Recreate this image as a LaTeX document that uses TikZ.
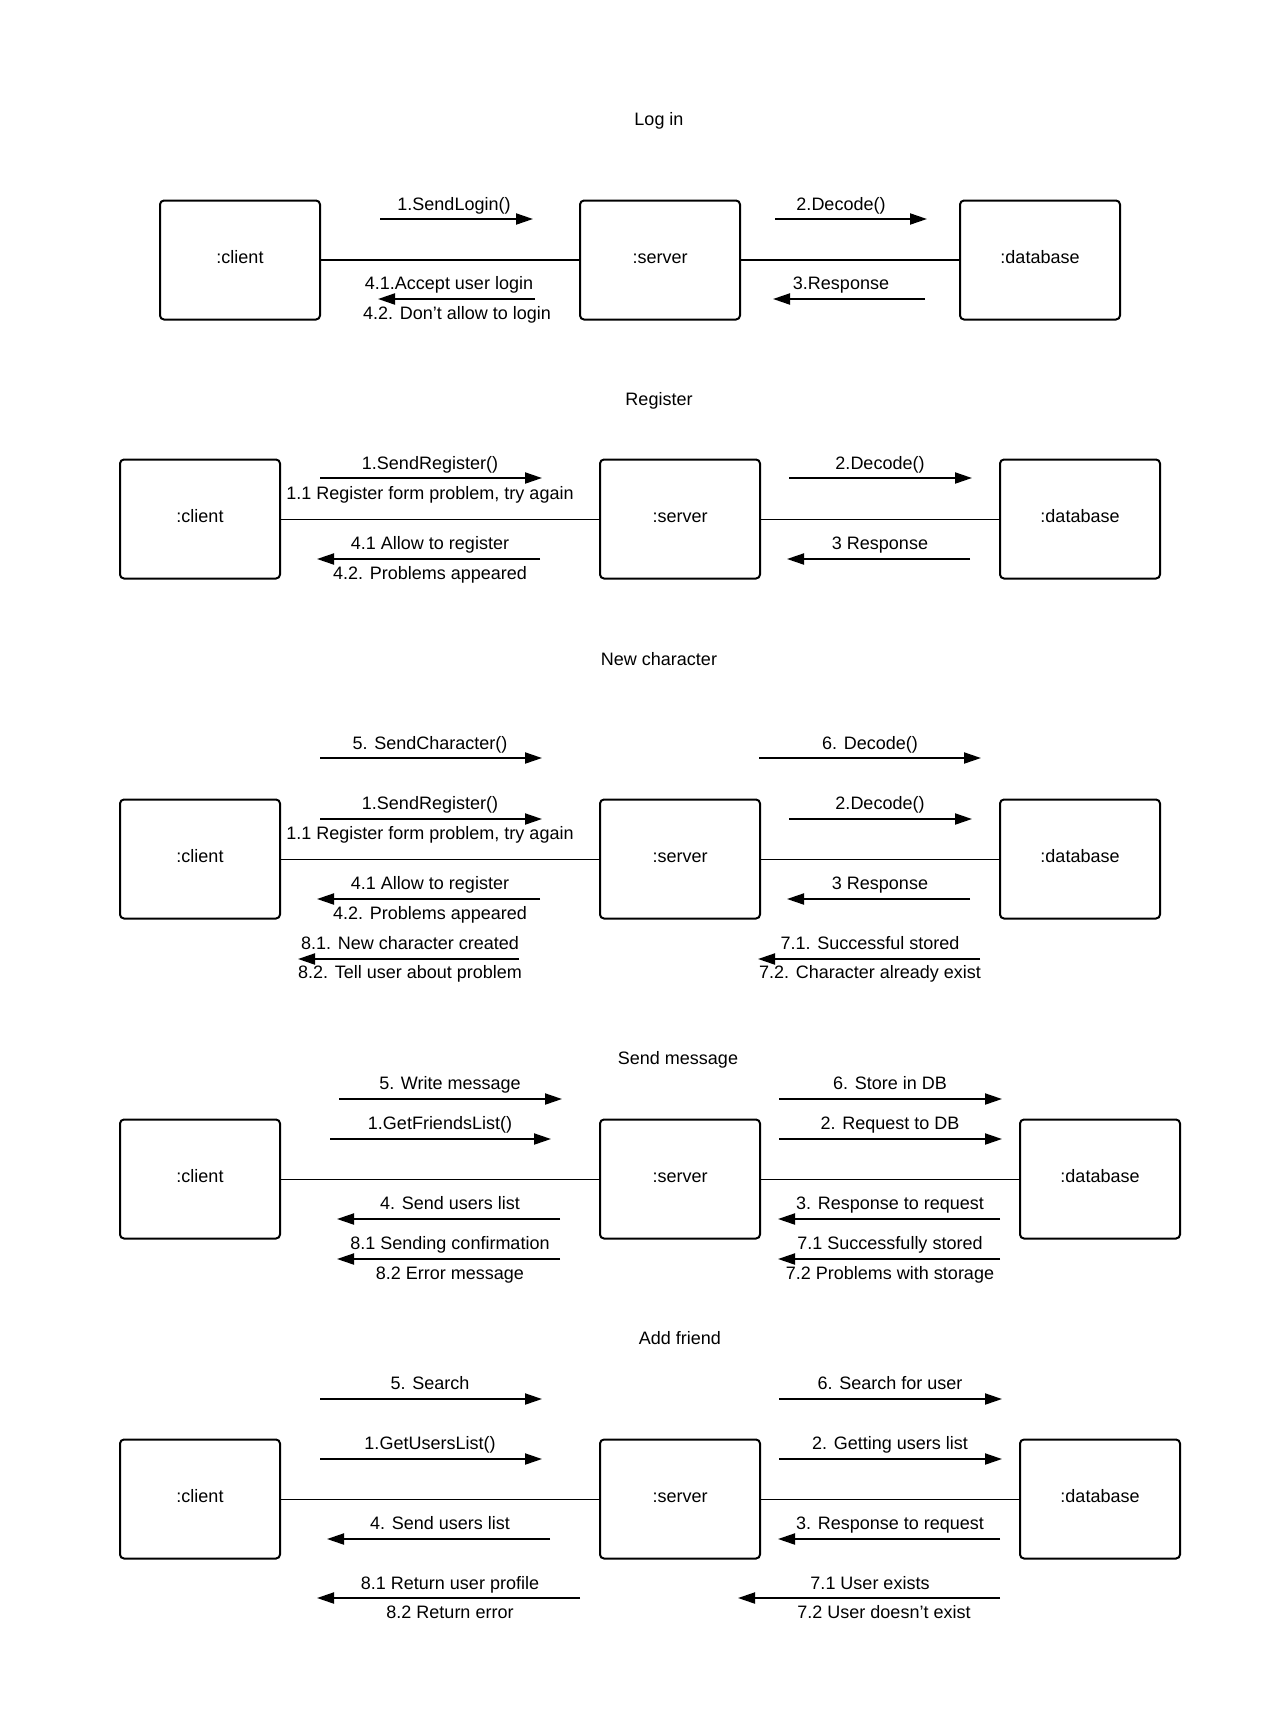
\documentclass[tikz,border=0pt]{standalone}
\usepackage{fontspec}
\setmainfont{Liberation Sans}
\usetikzlibrary{arrows.meta}
\begin{document}
\begin{tikzpicture}[x=1pt,y=-1pt,
 obj/.style={draw, line width=2pt, rounded corners=4pt, minimum width=160pt, minimum height=119pt, inner sep=0pt, text height=13pt, text depth=6pt, font=\fontsize{18}{21}\selectfont},
 lbl/.style={font=\fontsize{18}{21}\selectfont, inner sep=0pt, text height=13pt, text depth=4pt, yshift=-2.5pt},
 msg/.style={line width=2pt, -{Triangle[length=17pt,width=11pt]}},
 link/.style={line width=1pt},
 boldlink/.style={line width=2pt}]
\useasboundingbox[fill=white] (0,0) rectangle (1283,1729);

% ---------------- Log in
\node[lbl] (t1) at (659,118) {Log in};
\node[obj] (c1) at (240,260) {:client};
\node[obj] (s1) at (660,260) {:server};
\node[obj] (d1) at (1040,260) {:database};
\draw[boldlink] (c1) -- (s1);
\draw[boldlink] (s1) -- (d1);
\draw[msg] (380,219) -- (533,219);
\node[lbl] (l11) at (454,203) {1.SendLogin()};
\draw[msg] (775,219) -- (927,219);
\node[lbl] (l12) at (841,203) {2.Decode()};
\draw[msg] (535,299) -- (378,299);
\node[lbl] (l13) at (449,282) {4.1.Accept user login};
\node[lbl] (l14) at (457,312) {4.2. Don't allow to login};
\draw[msg] (925,299) -- (773,299);
\node[lbl] (l15) at (841,282) {3.Response};

% ---------------- Register
\node[lbl] (t2) at (659,398) {Register};
\node[obj] (c2) at (200,519) {:client};
\node[obj] (s2) at (680,519) {:server};
\node[obj] (d2) at (1080,519) {:database};
\draw[link] (c2) -- (s2);
\draw[link] (s2) -- (d2);
\draw[msg] (320,478) -- (542,478);
\node[lbl] (l21) at (430,462) {1.SendRegister()};
\node[lbl] (l22) at (430,492) {1.1 Register form problem, try again};
\draw[msg] (789,478) -- (972,478);
\node[lbl] (l23) at (880,462) {2.Decode()};
\draw[msg] (540,559) -- (317,559);
\node[lbl] (l24) at (430,542) {4.1 Allow to register};
\node[lbl] (l25) at (430,572) {4.2. Problems appeared};
\draw[msg] (970,559) -- (787,559);
\node[lbl] (l26) at (880,542) {3 Response};

% ---------------- New character
\node[lbl] (t3) at (659,658) {New character};
\draw[msg] (320,758) -- (542,758);
\node[lbl] (l31) at (430,742) {5. SendCharacter()};
\draw[msg] (759,758) -- (981,758);
\node[lbl] (l32) at (870,742) {6. Decode()};
\node[obj] (c3) at (200,859) {:client};
\node[obj] (s3) at (680,859) {:server};
\node[obj] (d3) at (1080,859) {:database};
\draw[link] (c3) -- (s3);
\draw[link] (s3) -- (d3);
\draw[msg] (320,819) -- (542,819);
\node[lbl] (l33) at (430,802) {1.SendRegister()};
\node[lbl] (l34) at (430,832) {1.1 Register form problem, try again};
\draw[msg] (789,819) -- (972,819);
\node[lbl] (l35) at (880,802) {2.Decode()};
\draw[msg] (540,899) -- (317,899);
\node[lbl] (l36) at (430,882) {4.1 Allow to register};
\node[lbl] (l37) at (430,912) {4.2. Problems appeared};
\draw[msg] (970,899) -- (787,899);
\node[lbl] (l38) at (880,882) {3 Response};
\draw[msg] (519,959) -- (298,959);
\node[lbl] (l39) at (410,942) {8.1. New character created};
\node[lbl] (l3a) at (410,971) {8.2. Tell user about problem};
\draw[msg] (980,959) -- (758,959);
\node[lbl] (l3b) at (870,942) {7.1. Successful stored};
\node[lbl] (l3c) at (870,971) {7.2. Character already exist};

% ---------------- Send message
\node[lbl] (t4) at (678,1057) {Send message};
\node[obj] (c4) at (200,1179) {:client};
\node[obj] (s4) at (680,1179) {:server};
\node[obj] (d4) at (1100,1179) {:database};
\draw[link] (c4) -- (s4);
\draw[link] (s4) -- (d4);
\draw[msg] (339,1099) -- (562,1099);
\node[lbl] (l41) at (450,1082) {5. Write message};
\draw[msg] (779,1099) -- (1002,1099);
\node[lbl] (l42) at (890,1082) {6. Store in DB};
\draw[msg] (330,1139) -- (551,1139);
\node[lbl] (l43) at (440,1122) {1.GetFriendsList()};
\draw[msg] (779,1139) -- (1002,1139);
\node[lbl] (l44) at (890,1122) {2. Request to DB};
\draw[msg] (560,1219) -- (337,1219);
\node[lbl] (l45) at (450,1202) {4. Send users list};
\draw[msg] (1000,1219) -- (778,1219);
\node[lbl] (l46) at (890,1202) {3. Response to request};
\draw[msg] (560,1259) -- (337,1259);
\node[lbl] (l47) at (450,1242) {8.1 Sending confirmation};
\node[lbl] (l48) at (450,1272) {8.2 Error message};
\draw[msg] (1000,1259) -- (778,1259);
\node[lbl] (l49) at (890,1242) {7.1 Successfully stored};
\node[lbl] (l4a) at (890,1272) {7.2 Problems with storage};

% ---------------- Add friend
\node[lbl] (t5) at (680,1337) {Add friend};
\draw[msg] (320,1399) -- (542,1399);
\node[lbl] (l51) at (430,1382) {5. Search};
\draw[msg] (779,1399) -- (1002,1399);
\node[lbl] (l52) at (890,1382) {6. Search for user};
\node[obj] (c5) at (200,1499) {:client};
\node[obj] (s5) at (680,1499) {:server};
\node[obj] (d5) at (1100,1499) {:database};
\draw[link] (c5) -- (s5);
\draw[link] (s5) -- (d5);
\draw[msg] (320,1459) -- (542,1459);
\node[lbl] (l53) at (430,1442) {1.GetUsersList()};
\draw[msg] (779,1459) -- (1002,1459);
\node[lbl] (l54) at (890,1442) {2. Getting users list};
\draw[msg] (550,1539) -- (327,1539);
\node[lbl] (l55) at (440,1522) {4. Send users list};
\draw[msg] (1000,1539) -- (778,1539);
\node[lbl] (l56) at (890,1522) {3. Response to request};
\draw[msg] (580,1598) -- (317,1598);
\node[lbl] (l57) at (450,1582) {8.1 Return user profile};
\node[lbl] (l58) at (450,1611) {8.2 Return error};
\draw[msg] (1000,1598) -- (738,1598);
\node[lbl] (l59) at (870,1582) {7.1 User exists};
\node[lbl] (l5a) at (884,1611) {7.2 User doesn't exist};
\end{tikzpicture}
\end{document}
